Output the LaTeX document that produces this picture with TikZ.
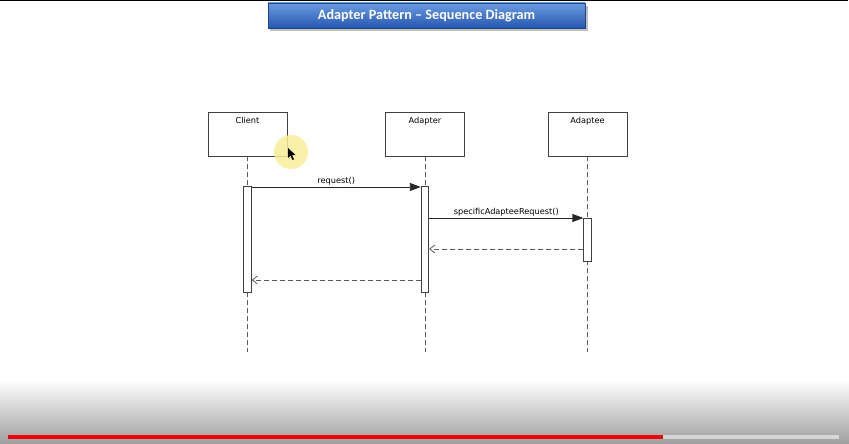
\documentclass[tikz,border=0pt]{standalone}
\usepackage{fontspec}
\setmainfont{DejaVu Sans}
\newfontfamily\titlefont{Carlito}
\usetikzlibrary{arrows.meta}
\definecolor{lineGray}{HTML}{404040}
\definecolor{lifeGray}{HTML}{5A5A5A}
\definecolor{titleTop}{HTML}{6A9BE0}
\definecolor{titleBottom}{HTML}{2657B0}
\definecolor{cursorYellow}{HTML}{F7EE98}
\definecolor{barRed}{HTML}{F00000}
\definecolor{barGray}{HTML}{D6D6D6}

\tikzset{
	objbox/.style={draw=lineGray, line width=0.9pt, fill=white, minimum width=79pt, minimum height=44pt, inner sep=0pt},
	objname/.style={font=\fontsize{8.2}{10}\selectfont, text=black},
	actbar/.style={draw=lineGray, line width=0.9pt, fill=white, minimum width=7.5pt, inner sep=0pt},
	lifeline/.style={draw=lifeGray, line width=1pt, dash pattern=on 5pt off 3pt},
	callmsg/.style={draw=black!85, line width=0.9pt, -{Triangle[length=11pt, width=8pt]}},
	replymsg/.style={draw=lifeGray, line width=0.9pt, dash pattern=on 5pt off 3pt, -{Straight Barb[length=5pt, width=8pt, line width=0.8pt]}},
	msglabel/.style={font=\fontsize{8.2}{10}\selectfont, text=black, above, inner sep=1.5pt}
}

\begin{document}
\begin{tikzpicture}[x=1pt, y=-1pt]
	\useasboundingbox (0,0) rectangle (849,444);

	% video frame
	\fill[black] (0,0) rectangle (848,1.5);
	\shade[top color=white, bottom color=black!38] (0,380) rectangle (849,444);
	\fill[barRed]  (8,434.5) rectangle (663,438.5);
	\fill[barGray] (663,434.5) rectangle (839,438.5);

	% title
	\fill[black!25] (270,6) rectangle (588,31);
	\shade[top color=titleTop, bottom color=titleBottom, draw=titleBottom!80!black] (268,3) rectangle (585,28);
	\node[text=white, font=\titlefont\bfseries\fontsize{14.2}{16}\selectfont] (title) at (426.5,15.5) {Adapter Pattern – Sequence Diagram};

	% objects
	\node[objbox] (client)  at (247.5,134) {};
	\node[objbox] (adapter) at (425,134) {};
	\node[objbox] (adaptee) at (587.5,134) {};
	\node[objname, below] at ([yshift=-2.5pt]client.north)  {Client};
	\node[objname, below] at ([yshift=-2.5pt]adapter.north) {Adapter};
	\node[objname, below] at ([yshift=-2.5pt]adaptee.north) {Adaptee};

	% lifelines
	\coordinate (clientend)  at (247.5,352);
	\coordinate (adapterend) at (425,352);
	\coordinate (adapteeend) at (587.5,352);
	\draw[lifeline] (client.south)  -- (clientend);
	\draw[lifeline] (adapter.south) -- (adapterend);
	\draw[lifeline] (adaptee.south) -- (adapteeend);

	% activations
	\node[actbar, minimum height=106pt] (clientbar)  at (247.5,239) {};
	\node[actbar, minimum height=106pt] (adapterbar) at (425,239) {};
	\node[actbar, minimum height=43pt]  (adapteebar) at (587.5,239.5) {};

	% messages
	\draw[callmsg] (clientbar.east |- 0,187) -- node[msglabel] {request()} (adapterbar.west |- 0,187);
	\draw[callmsg] (adapterbar.east |- 0,218) -- node[msglabel] {specificAdapteeRequest()} (adapteebar.west |- 0,218);
	\draw[replymsg] (adapteebar.west |- 0,249) -- (adapterbar.east |- 0,249);
	\draw[replymsg] (adapterbar.west |- 0,280) -- (clientbar.east |- 0,280);

	% cursor
	\fill[cursorYellow, opacity=0.85] (291,152) circle (17);
	\fill[black] (288,148) -- (288,158) -- (290.5,155.5) -- (292.5,160) -- (294,159.3) -- (292,155) -- (295.5,155) -- cycle;
\end{tikzpicture}
\end{document}
